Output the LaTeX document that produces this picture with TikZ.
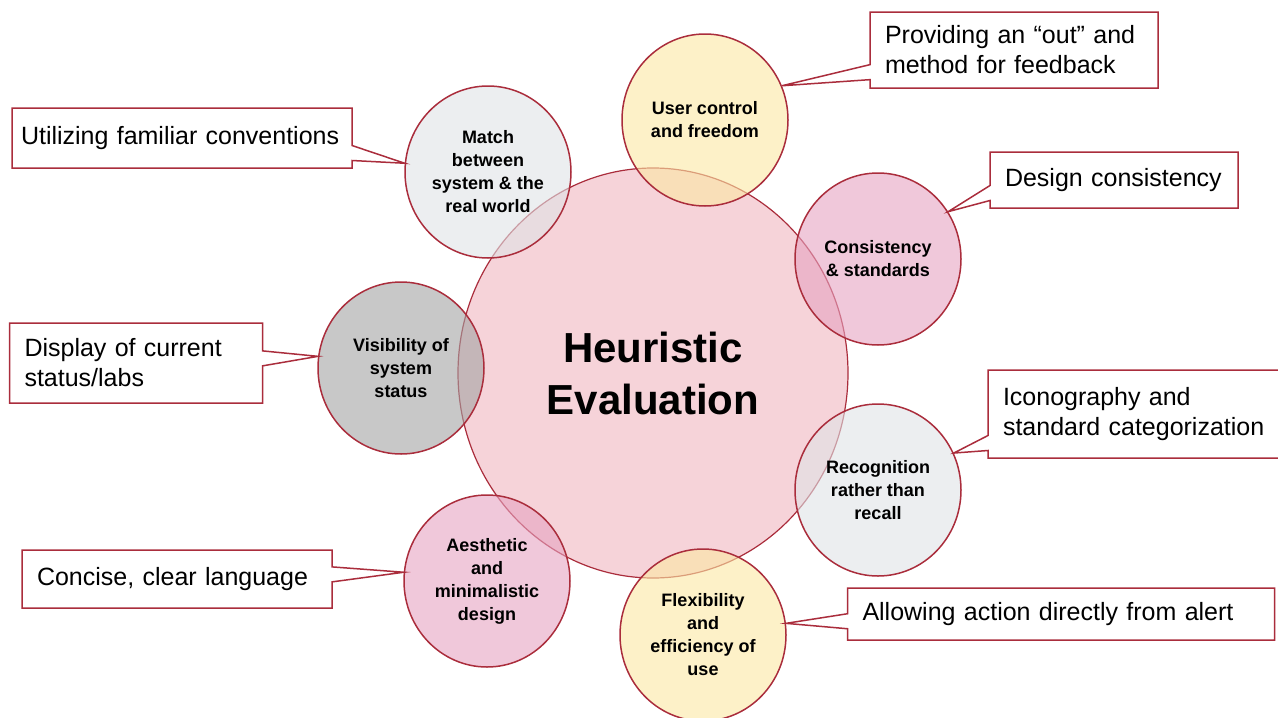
\documentclass[tikz,border=0pt]{standalone}
\usepackage{fontspec}
\setmainfont{Liberation Sans}
\usetikzlibrary{shapes.geometric, shapes.callouts}

\definecolor{edgered}{RGB}{170,45,60}
\definecolor{hubpink}{RGB}{246,211,217}
\definecolor{softyellow}{RGB}{252,232,163}
\definecolor{softgrey}{RGB}{223,227,230}
\definecolor{softpink}{RGB}{230,163,193}
\definecolor{midgrey}{RGB}{163,163,163}

\begin{document}
\begin{tikzpicture}[x=1pt, y=-1pt,
    hub/.style={ellipse, draw=edgered, line width=1.2pt, fill=hubpink,
      minimum width=390pt, minimum height=410pt, inner sep=0pt, align=center,
      font=\fontsize{42}{52}\selectfont\bfseries},
    rule/.style={ellipse, draw=edgered, line width=1.5pt, fill=#1,
      fill opacity=0.6, text opacity=1, minimum width=166pt, minimum height=172pt,
      inner sep=0pt, align=center, font=\fontsize{18}{23}\selectfont\bfseries},
    note/.style={rectangle callout, draw=edgered, line width=1.5pt, fill=white,
      align=left, inner xsep=15pt, inner ysep=0pt, callout pointer width=15pt,
      font=\fontsize{25}{30}\selectfont}]
    \useasboundingbox (0,0) rectangle (1278,718);

    \node[hub] (heur) at (653,373) {Heuristic\\Evaluation};

    \node[rule=softyellow] (usr) at (705,120) {User control\\and freedom};
    \node[rule=softgrey] (match) at (488,172) {Match\\between\\system \& the\\real world};
    \node[rule=softpink] (cons) at (878,259) {Consistency\\\& standards};
    \node[rule=midgrey] (vis) at (401,368) {Visibility of\\system\\status};
    \node[rule=softgrey] (recog) at (878,490) {Recognition\\rather than\\recall};
    \node[rule=softpink] (aes) at (487,581) {Aesthetic\\and\\minimalistic\\design};
    \node[rule=softyellow] (flex) at (703,635) {Flexibility\\and\\efficiency of\\use};

    \node[note, inner xsep=9pt, minimum width=340pt, minimum height=60pt, text width=322pt,
      callout absolute pointer={(match.174)}] (conv) at (182,138) {Utilizing familiar conventions};
    \node[note, minimum width=288pt, minimum height=76pt, text width=258pt,
      callout absolute pointer={(usr.24)}] (outfb) at (1014,50) {Providing an “out” and\\method for feedback};
    \node[note, minimum width=248pt, minimum height=56pt, text width=218pt,
      callout absolute pointer={(cons.34)}] (dcons) at (1114,180) {Design consistency};
    \node[note, minimum width=253pt, minimum height=80pt, text width=223pt,
      callout absolute pointer={(vis.172)}] (disp) at (136,363) {Display of current\\status/labs};
    \node[note, minimum width=302pt, minimum height=88pt, text width=272pt,
      callout absolute pointer={(recog.26)}] (icon) at (1139,414) {Iconography and\\standard categorization};
    \node[note, minimum width=310pt, minimum height=58pt, text width=280pt,
      callout absolute pointer={(aes.174)}] (conc) at (177,579) {Concise, clear language};
    \node[note, minimum width=427pt, minimum height=52pt, text width=397pt,
      callout absolute pointer={(flex.8)}] (alert) at (1061,614) {Allowing action directly from alert};
\end{tikzpicture}
\end{document}
